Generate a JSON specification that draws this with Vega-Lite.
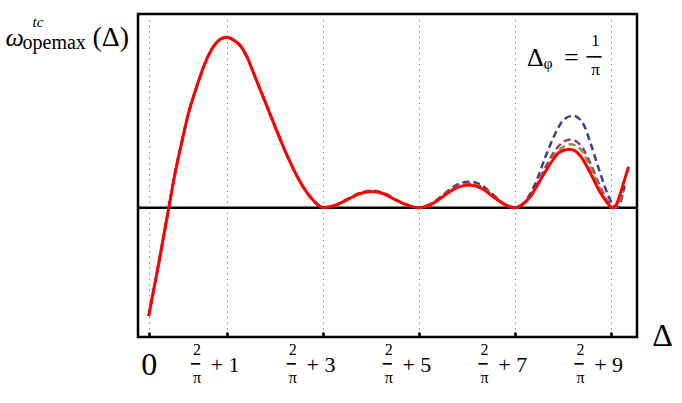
{
  "$schema": "https://vega.github.io/schema/vega-lite/v6.json",
  "width": 499,
  "height": 323,
  "autosize": "none",
  "padding": {"left": 138, "top": 14, "right": 45, "bottom": 66},
  "background": "white",
  "config": {"view": {"stroke": "black", "strokeWidth": 2.5}},
  "resolve": {"axis": {"x": "independent", "y": "independent"}},
  "datasets": {
    "blue": [
      {"x": 0, "y": -0.636}, {"x": 0.21, "y": -0.326}, {"x": 0.42, "y": 0}, {"x": 0.55, "y": 0.202}, {"x": 0.7, "y": 0.397}, {"x": 0.83, "y": 0.554}, {"x": 0.98, "y": 0.691}, {"x": 1.12, "y": 0.808}, {"x": 1.25, "y": 0.896}, {"x": 1.39, "y": 0.961}, {"x": 1.5, "y": 0.99}, {"x": 1.63, "y": 1.0}, {"x": 1.78, "y": 0.982}, {"x": 1.91, "y": 0.952}, {"x": 2.05, "y": 0.885}, {"x": 2.19, "y": 0.789}, {"x": 2.33, "y": 0.69}, {"x": 2.47, "y": 0.593}, {"x": 2.61, "y": 0.494}, {"x": 2.75, "y": 0.397}, {"x": 2.89, "y": 0.305}, {"x": 3.03, "y": 0.221}, {"x": 3.17, "y": 0.146}, {"x": 3.31, "y": 0.085}, {"x": 3.45, "y": 0.038}, {"x": 3.55, "y": 0.012}, {"x": 3.64, "y": 0},
      {"x": 3.9, "y": 0.016}, {"x": 4.14, "y": 0.05}, {"x": 4.4, "y": 0.086}, {"x": 4.64, "y": 0.1}, {"x": 4.9, "y": 0.087}, {"x": 5.14, "y": 0.05}, {"x": 5.4, "y": 0.016}, {"x": 5.64, "y": 0},
      {"x": 5.89, "y": 0.022}, {"x": 6.14, "y": 0.076}, {"x": 6.4, "y": 0.13}, {"x": 6.68, "y": 0.153}, {"x": 6.94, "y": 0.132}, {"x": 7.18, "y": 0.078}, {"x": 7.42, "y": 0.022}, {"x": 7.66, "y": 0},
      {"x": 7.85, "y": 0.035}, {"x": 8.05, "y": 0.133}, {"x": 8.29, "y": 0.309}, {"x": 8.5, "y": 0.446}, {"x": 8.67, "y": 0.52}, {"x": 8.85, "y": 0.54}, {"x": 9.06, "y": 0.495}, {"x": 9.23, "y": 0.368}, {"x": 9.41, "y": 0.211}, {"x": 9.58, "y": 0.075}, {"x": 9.68, "y": 0.018}, {"x": 9.76, "y": 0}, {"x": 9.84, "y": 0.03}, {"x": 9.93, "y": 0.13}
    ],
    "purple": [
      {"x": 0, "y": -0.636}, {"x": 0.21, "y": -0.326}, {"x": 0.42, "y": 0}, {"x": 0.55, "y": 0.202}, {"x": 0.7, "y": 0.397}, {"x": 0.83, "y": 0.554}, {"x": 0.98, "y": 0.691}, {"x": 1.12, "y": 0.808}, {"x": 1.25, "y": 0.896}, {"x": 1.39, "y": 0.961}, {"x": 1.5, "y": 0.99}, {"x": 1.63, "y": 1.0}, {"x": 1.78, "y": 0.982}, {"x": 1.91, "y": 0.952}, {"x": 2.05, "y": 0.885}, {"x": 2.19, "y": 0.789}, {"x": 2.33, "y": 0.69}, {"x": 2.47, "y": 0.593}, {"x": 2.61, "y": 0.494}, {"x": 2.75, "y": 0.397}, {"x": 2.89, "y": 0.305}, {"x": 3.03, "y": 0.221}, {"x": 3.17, "y": 0.146}, {"x": 3.31, "y": 0.085}, {"x": 3.45, "y": 0.038}, {"x": 3.55, "y": 0.012}, {"x": 3.64, "y": 0},
      {"x": 3.9, "y": 0.015}, {"x": 4.14, "y": 0.048}, {"x": 4.4, "y": 0.084}, {"x": 4.64, "y": 0.097}, {"x": 4.9, "y": 0.084}, {"x": 5.14, "y": 0.048}, {"x": 5.4, "y": 0.015}, {"x": 5.64, "y": 0},
      {"x": 5.89, "y": 0.02}, {"x": 6.14, "y": 0.071}, {"x": 6.4, "y": 0.121}, {"x": 6.68, "y": 0.143}, {"x": 6.94, "y": 0.122}, {"x": 7.18, "y": 0.072}, {"x": 7.42, "y": 0.02}, {"x": 7.65, "y": 0},
      {"x": 7.85, "y": 0.03}, {"x": 8.05, "y": 0.11}, {"x": 8.29, "y": 0.245}, {"x": 8.5, "y": 0.345}, {"x": 8.67, "y": 0.39}, {"x": 8.8, "y": 0.4}, {"x": 9.0, "y": 0.37}, {"x": 9.2, "y": 0.27}, {"x": 9.4, "y": 0.135}, {"x": 9.55, "y": 0.05}, {"x": 9.72, "y": 0}, {"x": 9.8, "y": 0.022}, {"x": 9.9, "y": 0.09}
    ],
    "olive": [
      {"x": 0, "y": -0.636}, {"x": 0.21, "y": -0.326}, {"x": 0.42, "y": 0}, {"x": 0.55, "y": 0.202}, {"x": 0.7, "y": 0.397}, {"x": 0.83, "y": 0.554}, {"x": 0.98, "y": 0.691}, {"x": 1.12, "y": 0.808}, {"x": 1.25, "y": 0.896}, {"x": 1.39, "y": 0.961}, {"x": 1.5, "y": 0.99}, {"x": 1.63, "y": 1.0}, {"x": 1.78, "y": 0.982}, {"x": 1.91, "y": 0.952}, {"x": 2.05, "y": 0.885}, {"x": 2.19, "y": 0.789}, {"x": 2.33, "y": 0.69}, {"x": 2.47, "y": 0.593}, {"x": 2.61, "y": 0.494}, {"x": 2.75, "y": 0.397}, {"x": 2.89, "y": 0.305}, {"x": 3.03, "y": 0.221}, {"x": 3.17, "y": 0.146}, {"x": 3.31, "y": 0.085}, {"x": 3.45, "y": 0.038}, {"x": 3.55, "y": 0.012}, {"x": 3.64, "y": 0},
      {"x": 3.9, "y": 0.015}, {"x": 4.14, "y": 0.048}, {"x": 4.4, "y": 0.083}, {"x": 4.64, "y": 0.096}, {"x": 4.9, "y": 0.083}, {"x": 5.14, "y": 0.048}, {"x": 5.4, "y": 0.015}, {"x": 5.64, "y": 0},
      {"x": 5.89, "y": 0.02}, {"x": 6.14, "y": 0.069}, {"x": 6.4, "y": 0.117}, {"x": 6.68, "y": 0.138}, {"x": 6.94, "y": 0.118}, {"x": 7.18, "y": 0.069}, {"x": 7.42, "y": 0.02}, {"x": 7.65, "y": 0},
      {"x": 7.85, "y": 0.028}, {"x": 8.05, "y": 0.1}, {"x": 8.29, "y": 0.225}, {"x": 8.5, "y": 0.32}, {"x": 8.67, "y": 0.36}, {"x": 8.79, "y": 0.372}, {"x": 9.0, "y": 0.345}, {"x": 9.2, "y": 0.245}, {"x": 9.4, "y": 0.118}, {"x": 9.55, "y": 0.042}, {"x": 9.7, "y": 0}, {"x": 9.8, "y": 0.03}, {"x": 9.9, "y": 0.1}
    ],
    "red": [
      {"x": 0, "y": -0.636}, {"x": 0.21, "y": -0.326}, {"x": 0.42, "y": 0}, {"x": 0.55, "y": 0.202}, {"x": 0.7, "y": 0.397}, {"x": 0.83, "y": 0.554}, {"x": 0.98, "y": 0.691}, {"x": 1.12, "y": 0.808}, {"x": 1.25, "y": 0.896}, {"x": 1.39, "y": 0.961}, {"x": 1.5, "y": 0.99}, {"x": 1.63, "y": 1.0}, {"x": 1.78, "y": 0.982}, {"x": 1.91, "y": 0.952}, {"x": 2.05, "y": 0.885}, {"x": 2.19, "y": 0.789}, {"x": 2.33, "y": 0.69}, {"x": 2.47, "y": 0.593}, {"x": 2.61, "y": 0.494}, {"x": 2.75, "y": 0.397}, {"x": 2.89, "y": 0.305}, {"x": 3.03, "y": 0.221}, {"x": 3.17, "y": 0.146}, {"x": 3.31, "y": 0.085}, {"x": 3.45, "y": 0.038}, {"x": 3.55, "y": 0.012}, {"x": 3.64, "y": 0},
      {"x": 3.9, "y": 0.015}, {"x": 4.14, "y": 0.047}, {"x": 4.4, "y": 0.082}, {"x": 4.64, "y": 0.095}, {"x": 4.9, "y": 0.082}, {"x": 5.14, "y": 0.047}, {"x": 5.4, "y": 0.015}, {"x": 5.64, "y": 0},
      {"x": 5.89, "y": 0.019}, {"x": 6.14, "y": 0.066}, {"x": 6.4, "y": 0.113}, {"x": 6.68, "y": 0.133}, {"x": 6.94, "y": 0.113}, {"x": 7.18, "y": 0.066}, {"x": 7.42, "y": 0.019}, {"x": 7.64, "y": 0},
      {"x": 7.8, "y": 0.02}, {"x": 7.94, "y": 0.058}, {"x": 8.15, "y": 0.153}, {"x": 8.36, "y": 0.25}, {"x": 8.57, "y": 0.326}, {"x": 8.78, "y": 0.343}, {"x": 8.99, "y": 0.31}, {"x": 9.2, "y": 0.211}, {"x": 9.41, "y": 0.094}, {"x": 9.55, "y": 0.035}, {"x": 9.67, "y": 0}, {"x": 9.76, "y": 0.022}, {"x": 9.83, "y": 0.075}, {"x": 9.9, "y": 0.14}, {"x": 10.01, "y": 0.24}
    ]
  },
  "layer": [
    {
      "data": {"values": [{}]},
      "mark": {"type": "rule", "color": "black", "strokeWidth": 2.5},
      "encoding": {"y": {"datum": 0, "type": "quantitative", "axis": null, "scale": {"domain": [-0.759, 1.137], "nice": false, "zero": false}}}
    },
    {
      "data": {"name": "blue"},
      "mark": {"type": "line", "color": "#3d3d99", "strokeWidth": 2.5, "strokeDash": [7, 4], "interpolate": "monotone"},
      "encoding": {
        "x": {
          "field": "x", "type": "quantitative",
          "scale": {"domain": [-0.223, 10.186], "nice": false, "zero": false},
          "axis": {
            "orient": "bottom",
            "values": [0, 1.63662, 3.63662, 5.63662, 7.63662, 9.63662],
            "labelExpr": "datum.value < 0.5 ? '0' : '+  ' + round(datum.value - 2 / PI)",
            "labelFont": "Liberation Serif",
            "labelFontSize": {"condition": {"test": "datum.value < 0.5", "value": 32}, "value": 22},
            "labelAlign": {"condition": {"test": "datum.value < 0.5", "value": "center"}, "value": "left"},
            "labelOffset": {"condition": {"test": "datum.value < 0.5", "value": 0}, "value": -17},
            "labelBaseline": "middle",
            "labelPadding": 32,
            "labelColor": "black",
            "labelOverlap": false,
            "labelBound": false,
            "labelFlush": false,
            "domain": false,
            "ticks": true,
            "tickSize": -5,
            "tickWidth": 2.5,
            "tickColor": "black",
            "grid": true,
            "gridDash": [1.5, 4],
            "gridColor": "#8a8a8a",
            "gridWidth": 1,
            "title": "\u0394",
            "titleFont": "Liberation Serif",
            "titleFontSize": 32,
            "titleFontWeight": "normal",
            "titleColor": "black",
            "titleX": 524,
            "titleY": -2,
            "titleAlign": "center",
            "titleBaseline": "middle"
          }
        },
        "y": {
          "field": "y", "type": "quantitative",
          "scale": {"domain": [-0.759, 1.137], "nice": false, "zero": false},
          "axis": {
            "orient": "left", "labels": false, "ticks": false, "grid": false, "domain": false,
            "title": "\u03c9",
            "titleFont": "Liberation Serif", "titleFontSize": 26, "titleFontStyle": "italic", "titleFontWeight": "normal", "titleColor": "black",
            "titleAngle": 0, "titleX": -133, "titleY": 31, "titleAlign": "left", "titleBaseline": "alphabetic"
          }
        }
      }
    },
    {
      "data": {"name": "purple"},
      "mark": {"type": "line", "color": "#993d71", "strokeWidth": 2.5, "strokeDash": [7, 4], "interpolate": "monotone"},
      "encoding": {
        "x": {
          "field": "x", "type": "quantitative",
          "axis": {
            "orient": "bottom",
            "values": [0, 1.63662, 3.63662, 5.63662, 7.63662, 9.63662],
            "labelExpr": "datum.value < 0.5 ? '' : ['2', '\u03c0']",
            "labelFont": "Liberation Serif",
            "labelFontSize": 16,
            "labelLineHeight": 28,
            "labelAlign": "center",
            "labelOffset": -30.7,
            "labelBaseline": "middle",
            "labelPadding": 12.5,
            "labelColor": "black",
            "labelOverlap": false,
            "labelBound": false,
            "labelFlush": false,
            "domain": false,
            "ticks": false,
            "grid": false,
            "title": null
          }
        },
        "y": {
          "field": "y", "type": "quantitative",
          "axis": {
            "orient": "left", "labels": false, "ticks": false, "grid": false, "domain": false,
            "title": "tc",
            "titleFont": "Liberation Serif", "titleFontSize": 15, "titleFontStyle": "italic", "titleFontWeight": "normal", "titleColor": "black",
            "titleAngle": 0, "titleX": -106, "titleY": 12, "titleAlign": "left", "titleBaseline": "alphabetic"
          }
        }
      }
    },
    {
      "data": {"name": "olive"},
      "mark": {"type": "line", "color": "#998c3d", "strokeWidth": 2.5, "strokeDash": [7, 4], "interpolate": "monotone"},
      "encoding": {
        "x": {
          "field": "x", "type": "quantitative",
          "axis": {
            "orient": "bottom",
            "values": [0, 1.63662, 3.63662, 5.63662, 7.63662, 9.63662],
            "labelExpr": "datum.value < 0.5 ? '' : '\u2501\u2578'",
            "labelFont": "DejaVu Sans Mono",
            "labelFontSize": 10,
            "labelAlign": "center",
            "labelOffset": -30.7,
            "labelBaseline": "middle",
            "labelPadding": 26.3,
            "labelColor": "black",
            "labelOverlap": false,
            "labelBound": false,
            "labelFlush": false,
            "domain": false,
            "ticks": false,
            "grid": false,
            "title": null
          }
        },
        "y": {
          "field": "y", "type": "quantitative",
          "axis": {
            "orient": "left", "labels": false, "ticks": false, "grid": false, "domain": false,
            "title": "opemax",
            "titleFont": "Liberation Serif", "titleFontSize": 20, "titleFontWeight": "normal", "titleColor": "black",
            "titleAngle": 0, "titleX": -116, "titleY": 34, "titleAlign": "left", "titleBaseline": "alphabetic"
          }
        }
      }
    },
    {
      "data": {"name": "red"},
      "mark": {"type": "line", "color": "#ff0000", "strokeWidth": 3, "interpolate": "monotone"},
      "encoding": {
        "x": {"field": "x", "type": "quantitative", "axis": null},
        "y": {
          "field": "y", "type": "quantitative",
          "axis": {
            "orient": "left", "labels": false, "ticks": false, "grid": false, "domain": false,
            "title": "(\u0394)",
            "titleFont": "Liberation Serif", "titleFontSize": 28, "titleFontWeight": "normal", "titleColor": "black",
            "titleAngle": 0, "titleX": -46, "titleY": 31, "titleAlign": "left", "titleBaseline": "alphabetic"
          }
        }
      }
    },
    {
      "data": {"values": [{}]},
      "mark": {"type": "text", "text": "\u0394\u1d69 \u2009=", "font": "Liberation Serif", "fontSize": 26, "align": "left", "baseline": "middle", "color": "black"},
      "encoding": {"x": {"datum": 7.89, "type": "quantitative", "axis": null}, "y": {"datum": 0.881, "type": "quantitative", "axis": null}}
    },
    {
      "data": {"values": [{}]},
      "mark": {"type": "text", "text": ["1", "\u03c0"], "font": "Liberation Serif", "fontSize": 17, "lineHeight": 29, "align": "center", "baseline": "middle", "color": "black"},
      "encoding": {"x": {"datum": 9.32, "type": "quantitative", "axis": null}, "y": {"datum": 0.978, "type": "quantitative", "axis": null}}
    },
    {
      "data": {"values": [{}]},
      "mark": {"type": "text", "text": "\u2501\u2501\u2578", "font": "DejaVu Sans Mono", "fontSize": 10, "align": "center", "baseline": "middle", "color": "black"},
      "encoding": {"x": {"datum": 9.32, "type": "quantitative", "axis": null}, "y": {"datum": 0.886, "type": "quantitative", "axis": null}}
    }
  ]
}
